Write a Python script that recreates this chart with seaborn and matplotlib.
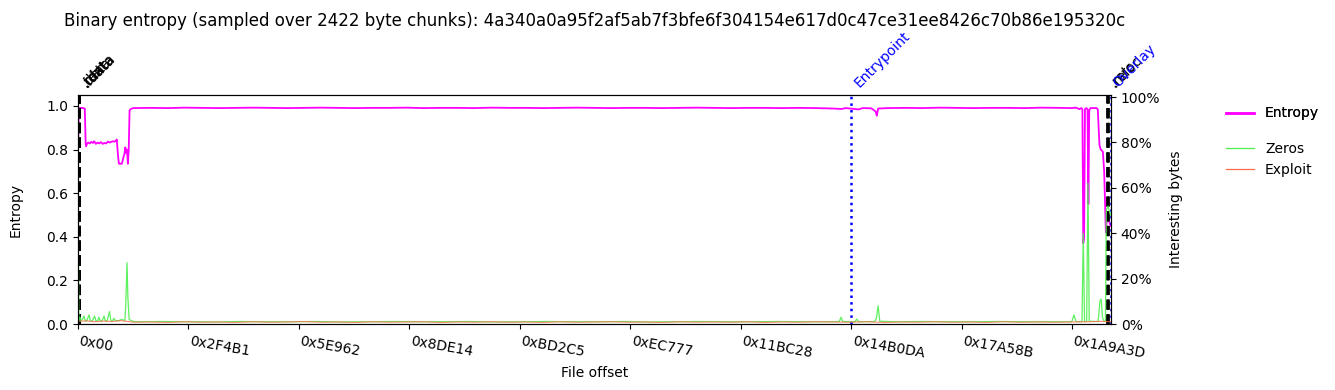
import numpy as np
import pandas as pd
import matplotlib
matplotlib.use("Agg")
import matplotlib.pyplot as plt
import matplotlib.transforms as mtransforms
from matplotlib.ticker import PercentFormatter
from matplotlib.lines import Line2D
import seaborn as sns

title = ("Binary entropy (sampled over 2422 byte chunks): "
         "4a340a0a95f2af5ab7f3bfe6f304154e617d0c47ce31ee8426c70b86e195320c")
n_chunks = 2422
chunk_size = 748

# Entropy (chunk index, value)
ent_x = [0, 2, 9, 16, 18, 19, 21, 24, 28, 31, 35, 38, 42, 46, 50, 54, 58, 62, 66, 70,
         74, 78, 82, 86, 90, 91, 94, 96, 103, 106, 109, 111, 113, 115, 117, 119, 121, 125,
         130, 170, 210, 250, 290, 330, 370, 410, 450, 490, 530, 570, 610, 650, 690, 730,
         770, 810, 850, 890, 930, 970, 1010, 1050, 1090, 1130, 1170, 1210, 1250, 1290,
         1330, 1370, 1410, 1450, 1490, 1530, 1570, 1610, 1650, 1690, 1730, 1770, 1790,
         1800, 1830, 1840, 1860, 1870, 1873, 1876, 1900, 1940, 1980, 2020, 2060, 2100,
         2140, 2180, 2220, 2260, 2300, 2330, 2340, 2348, 2352, 2355, 2357, 2359, 2361,
         2364, 2367, 2369, 2371, 2374, 2388, 2391, 2395, 2398, 2403, 2406, 2410, 2413,
         2416, 2421]
ent_y = [0.77, 0.99, 0.991, 0.988, 0.83, 0.815, 0.825, 0.832, 0.828, 0.835, 0.830, 0.838,
         0.826, 0.832, 0.828, 0.834, 0.826, 0.830, 0.828, 0.836, 0.832, 0.835, 0.838, 0.836,
         0.842, 0.846, 0.77, 0.735, 0.735, 0.76, 0.78, 0.81, 0.785, 0.80, 0.735, 0.80, 0.98,
         0.987, 0.990, 0.991, 0.990, 0.992, 0.991, 0.990, 0.991, 0.992, 0.991, 0.990, 0.991,
         0.992, 0.991, 0.990, 0.991, 0.991, 0.992, 0.990, 0.991, 0.991, 0.990, 0.992, 0.991,
         0.991, 0.990, 0.991, 0.992, 0.991, 0.990, 0.991, 0.991, 0.990, 0.991, 0.992, 0.991,
         0.990, 0.991, 0.991, 0.990, 0.991, 0.990, 0.988, 0.986, 0.990, 0.984, 0.990, 0.989,
         0.975, 0.955, 0.988, 0.990, 0.991, 0.990, 0.992, 0.991, 0.990, 0.991, 0.991, 0.990,
         0.992, 0.991, 0.990, 0.992, 0.985, 0.990, 0.985, 0.37, 0.40, 0.985, 0.990, 0.985,
         0.55, 0.98, 0.990, 0.990, 0.985, 0.82, 0.80, 0.79, 0.70, 0.42, 0.50, 0.48, 0.45]

# Zeros (fraction of interesting bytes)
zero_x = [0, 1, 2, 5, 7, 10, 14, 17, 20, 26, 29, 33, 39, 42, 46, 49, 52, 56, 61, 64, 68,
          74, 77, 81, 84, 88, 95, 103, 110, 112, 115, 117, 120, 128, 140, 200, 260, 320,
          380, 440, 500, 560, 620, 680, 740, 800, 860, 920, 980, 1040, 1100, 1160, 1220,
          1280, 1340, 1400, 1460, 1520, 1580, 1640, 1700, 1760, 1785, 1789, 1793, 1822,
          1826, 1830, 1868, 1872, 1876, 1880, 1920, 1980, 2040, 2100, 2160, 2220, 2280,
          2330, 2335, 2340, 2354, 2357, 2360, 2365, 2368, 2371, 2392, 2396, 2399, 2402,
          2406, 2409, 2411, 2415, 2421]
zero_y = [0.34, 0.30, 0.012, 0.03, 0.012, 0.02, 0.035, 0.015, 0.012, 0.04, 0.015, 0.012,
          0.035, 0.015, 0.012, 0.03, 0.015, 0.012, 0.035, 0.015, 0.012, 0.055, 0.015, 0.012,
          0.025, 0.015, 0.015, 0.02, 0.015, 0.08, 0.27, 0.12, 0.02, 0.012, 0.010, 0.011,
          0.010, 0.009, 0.011, 0.010, 0.010, 0.011, 0.009, 0.010, 0.011, 0.010, 0.010, 0.011,
          0.009, 0.010, 0.011, 0.010, 0.010, 0.011, 0.009, 0.010, 0.011, 0.010, 0.010, 0.011,
          0.010, 0.010, 0.011, 0.03, 0.011, 0.010, 0.022, 0.010, 0.011, 0.025, 0.08, 0.012,
          0.010, 0.011, 0.010, 0.010, 0.011, 0.010, 0.010, 0.010, 0.04, 0.011, 0.010, 0.40,
          0.010, 0.012, 0.62, 0.012, 0.011, 0.10, 0.11, 0.03, 0.011, 0.012, 0.50, 0.52, 0.48]

# Exploit (fraction of interesting bytes)
expl_x = [0, 20, 40, 60, 80, 100, 130, 170, 210, 250, 290, 330, 370, 410, 450, 490, 530,
          570, 610, 650, 690, 730, 770, 810, 850, 890, 930, 970, 1010, 1050, 1090, 1130,
          1170, 1210, 1250, 1290, 1330, 1370, 1410, 1450, 1490, 1530, 1570, 1610, 1650,
          1690, 1730, 1770, 1810, 1850, 1890, 1930, 1970, 2010, 2050, 2090, 2130, 2170,
          2210, 2250, 2290, 2330, 2370, 2400, 2421]
expl_y = [0.012, 0.014, 0.010, 0.013, 0.011, 0.015, 0.008, 0.009, 0.007, 0.010, 0.008,
          0.009, 0.007, 0.010, 0.008, 0.009, 0.011, 0.008, 0.009, 0.007, 0.010, 0.008, 0.009,
          0.010, 0.007, 0.009, 0.008, 0.010, 0.008, 0.009, 0.007, 0.010, 0.008, 0.009, 0.010,
          0.008, 0.009, 0.007, 0.010, 0.008, 0.009, 0.008, 0.010, 0.007, 0.009, 0.008, 0.010,
          0.009, 0.008, 0.010, 0.007, 0.009, 0.008, 0.010, 0.008, 0.009, 0.007, 0.010, 0.008,
          0.009, 0.008, 0.009, 0.010, 0.012, 0.010]

tick_labels = ["0x00", "0x2F4B1", "0x5E962", "0x8DE14", "0xBD2C5", "0xEC777",
               "0x11BC28", "0x14B0DA", "0x17A58B", "0x1A9A3D"]

section_names = [".text", ".rdata", ".data", ".idata", ".rsrc", ".reloc"]
section_offsets = [0x400, 0x600, 0x800, 0xA00, 0x1B8700, 0x1B8F00]
entrypoint_offset = 0x14B2A0
overlay_offset = 0x1BA300

ent_df = pd.DataFrame({"offset": np.array(ent_x) * chunk_size, "Entropy": ent_y})
zero_df = pd.DataFrame({"offset": np.array(zero_x) * chunk_size, "Zeros": zero_y})
expl_df = pd.DataFrame({"offset": np.array(expl_x) * chunk_size, "Exploit": expl_y})

fig = plt.figure(figsize=(13.35, 3.9), dpi=100)
ax = fig.add_axes([0.0584, 0.1692, 0.7738, 0.5872])
ax2 = ax.twinx()

ent_color = "#ff00ff"
zero_color = "#4cef4c"
expl_color = "#ff6a4d"

sns.lineplot(data=ent_df, x="offset", y="Entropy", ax=ax, color=ent_color, lw=1.3,
             estimator=None, zorder=3)
sns.lineplot(data=zero_df, x="offset", y="Zeros", ax=ax2, color=zero_color, lw=0.9,
             estimator=None, alpha=0.9)
sns.lineplot(data=expl_df, x="offset", y="Exploit", ax=ax2, color=expl_color, lw=0.8,
             estimator=None, alpha=0.8)

xmax = n_chunks * chunk_size
ax.set_xlim(0, xmax)
ax.set_ylim(0, 1.05)
ax2.set_ylim(0, 1.009)
ax2.yaxis.set_major_formatter(PercentFormatter(1.0, decimals=0))
ax2.set_yticks([0, 0.2, 0.4, 0.6, 0.8, 1.0])
ax.set_yticks([0, 0.2, 0.4, 0.6, 0.8, 1.0])

ax.set_xticks([int(t, 16) for t in tick_labels])
ax.set_xticklabels(tick_labels, rotation=-10, ha="left")

ax.set_xlabel("File offset")
ax.set_ylabel("Entropy", labelpad=17)
ax2.set_ylabel("Interesting bytes", labelpad=6)
ax.set_title(title, fontsize=12, pad=50)

trans = mtransforms.blended_transform_factory(ax.transData, ax.transAxes)
for name, off in zip(section_names, section_offsets):
    ax.axvline(off, color="black", ls="--", lw=2, zorder=4)
    ax.text(off, 1.02, name, transform=trans, rotation=45, ha="left", va="bottom",
            fontsize=10, color="black")
for name, off in [("Entrypoint", entrypoint_offset), ("Overlay", overlay_offset)]:
    ax.axvline(off, color="blue", ls=":", lw=1.8, zorder=4)
    ax.text(off, 1.02, name, transform=trans, rotation=45, ha="left", va="bottom",
            fontsize=10, color="blue")

leg1 = fig.legend(handles=[Line2D([], [], color=ent_color, lw=1.8)], labels=["Entropy"],
                  loc="upper left", bbox_to_anchor=(0.9184, 0.727), frameon=False,
                  borderpad=0, borderaxespad=0)
fig.add_artist(leg1)
fig.legend(handles=[Line2D([], [], color=zero_color, lw=0.9),
                    Line2D([], [], color=expl_color, lw=0.9)],
           labels=["Zeros", "Exploit"], loc="upper left", bbox_to_anchor=(0.9184, 0.635),
           frameon=False, borderpad=0, borderaxespad=0)

fig.savefig("out.png", dpi=100)
